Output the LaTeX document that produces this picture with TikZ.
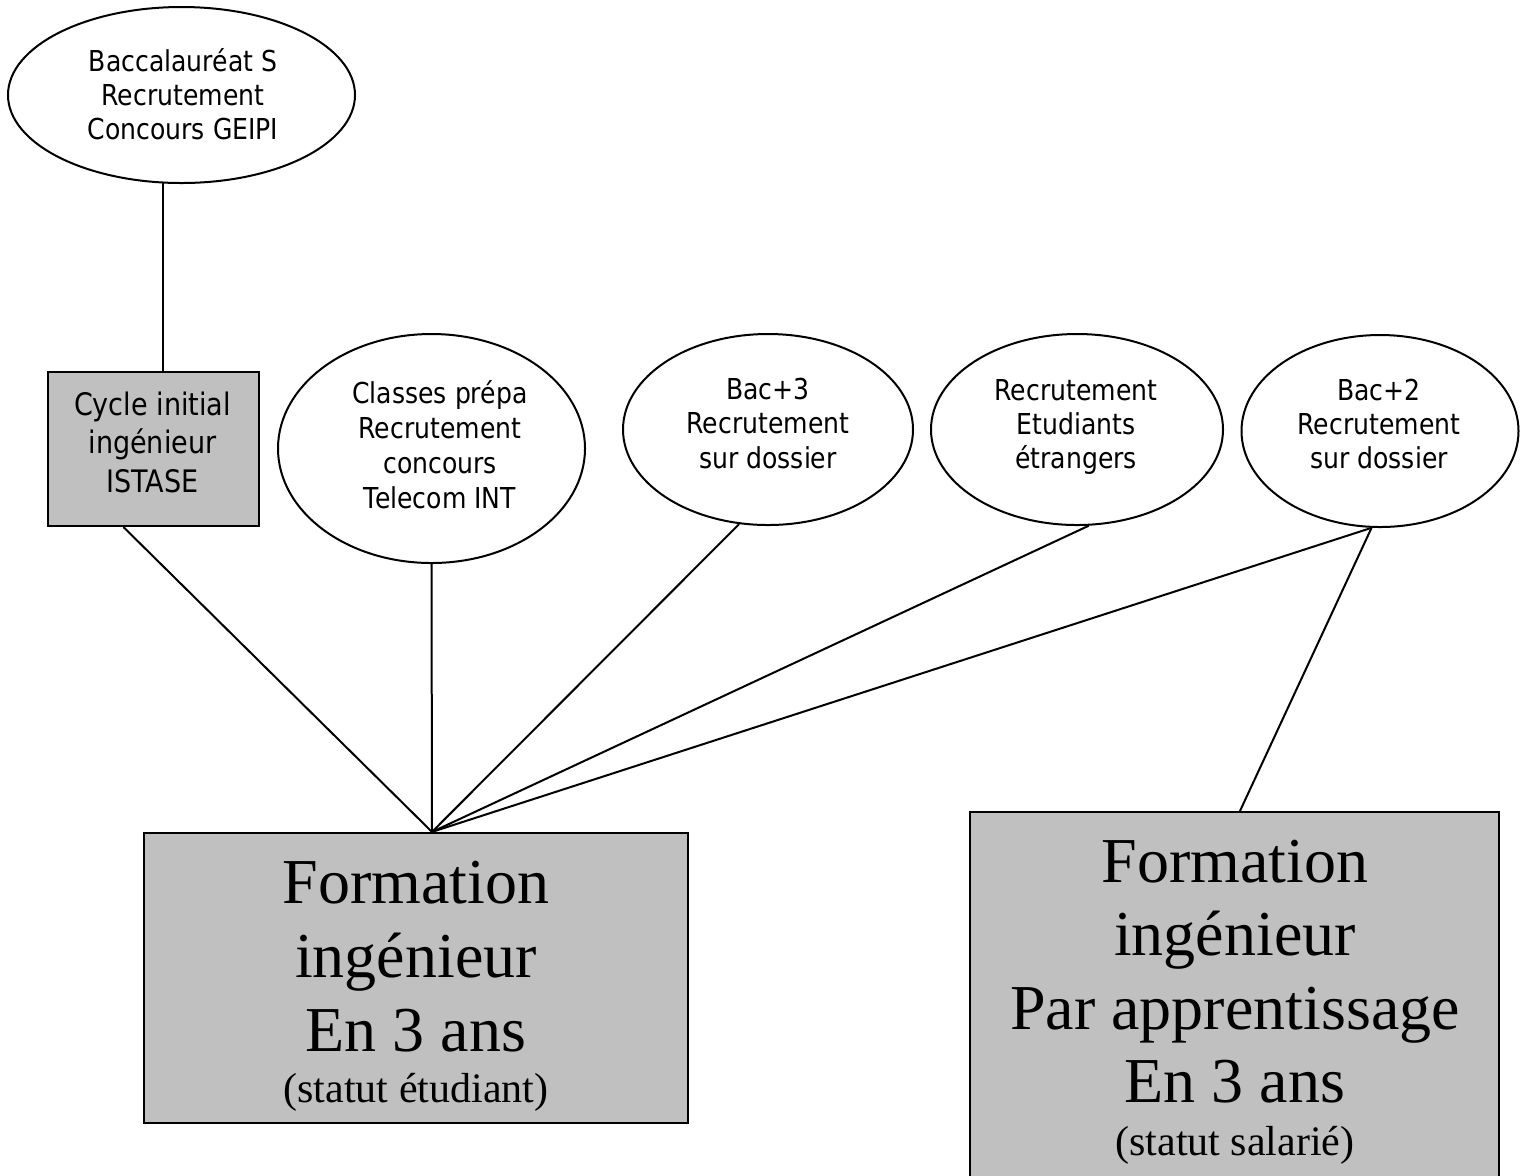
\documentclass[tikz,border=0pt]{standalone}
\usepackage{fontspec}
\setmainfont{Liberation Serif}
\newfontfamily\tah[FakeStretch=0.872]{DejaVu Sans}
\usetikzlibrary{shapes.geometric}
\definecolor{boxgray}{HTML}{C0C0C0}
\tikzset{
  oval/.style={draw, ellipse, line width=1pt, inner sep=0pt},
  graybox/.style={draw, fill=boxgray, line width=1.1pt, inner sep=0pt},
  link/.style={line width=1pt},
  ovaltxt/.style={anchor=base, inner sep=0pt, font=\tah\fontsize{14.4}{17}\selectfont},
  cyctxt/.style={anchor=base, inner sep=0pt, font=\tah\fontsize{15.5}{18}\selectfont},
  bigtxt/.style={anchor=base, inner sep=0pt, font=\fontsize{32}{37}\selectfont},
  smalltxt/.style={anchor=base, inner sep=0pt, font=\fontsize{21}{24}\selectfont},
}
% name, x, first baseline, skip, style, lines
\newcommand\txtlines[6]{%
  \foreach \lineText [count=\i] in {#6}
    \node[#5] (#1-\i) at (#2,{#3+(\i-1)*#4}) {\lineText};}
\begin{document}
\begin{tikzpicture}[x=0.5pt,y=-0.5pt]
\useasboundingbox (0,0) rectangle (1524,1175);

% ovals
\node[oval, minimum width=173.5pt, minimum height=88pt] (e1) at (181.5,95) {};
\node[oval, minimum width=153.5pt, minimum height=114.5pt] (e2) at (431.5,448.5) {};
\node[oval, minimum width=145pt, minimum height=95.5pt] (e3) at (768,429.5) {};
\node[oval, minimum width=146pt, minimum height=95.5pt] (e4) at (1077,429.5) {};
\node[oval, minimum width=138.5pt, minimum height=96pt] (e5) at (1380,431) {};

% boxes
\node[graybox, minimum width=105.5pt, minimum height=77pt] (cyc) at (153.5,449) {};
\node[graybox, minimum width=272pt, minimum height=145pt] (fl) at (416,978) {};
\begin{scope}
  \clip (0,0) rectangle (1524,1175);
  \node[graybox, minimum width=264.5pt, minimum height=189pt] (fr) at (1234.5,1001) {};
\end{scope}

% texts
\txtlines{t1}{183}{71}{34}{ovaltxt}{Baccalauréat S,Recrutement,Concours GEIPI}
\txtlines{tc}{152.5}{415}{38.5}{cyctxt}{Cycle initial,ingénieur,ISTASE}
\txtlines{t2}{440}{403}{35}{ovaltxt}{Classes prépa,Recrutement,concours,Telecom INT}
\txtlines{t3}{768}{399}{34.5}{ovaltxt}{Bac+3,Recrutement,sur dossier}
\txtlines{t4}{1076}{400}{34}{ovaltxt}{Recrutement,Etudiants,étrangers}
\txtlines{t5}{1379}{400}{34}{ovaltxt}{Bac+2,Recrutement,sur dossier}
\txtlines{tl}{416}{903}{74}{bigtxt}{Formation,ingénieur,En 3 ans}
\node[smalltxt] (tls) at (416,1102) {(statut étudiant)};
\txtlines{tr}{1235}{882}{73.5}{bigtxt}{Formation,ingénieur,Par apprentissage,En 3 ans}
\node[smalltxt] (trs) at (1235,1155) {(statut salarié)};

% connectors
\coordinate (hub) at ([xshift=8pt]fl.north);
\coordinate (frin) at ([xshift=2.75pt]fr.north);
\draw[link] (e1.258) -- (e1.258 |- cyc.north);
\draw[link] (cyc.249) -- (hub);
\draw[link] (e2.south) -- (hub);
\draw[link] (e3.253) -- (hub);
\draw[link] (e4.277) -- (hub);
\draw[link] (e5.265) -- (hub);
\draw[link] (e5.265) -- (frin);
\end{tikzpicture}
\end{document}
